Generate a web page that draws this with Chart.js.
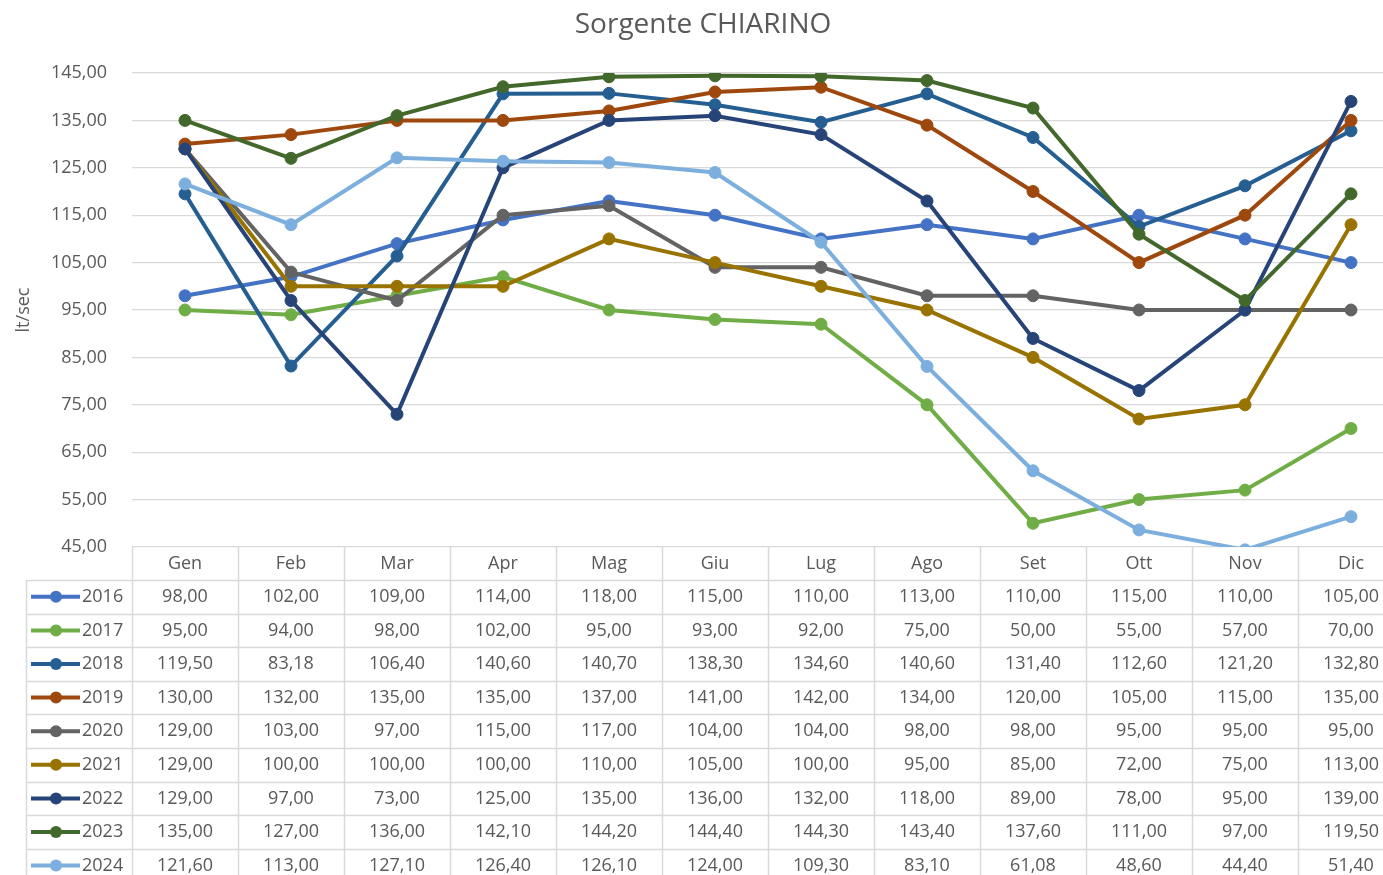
<!DOCTYPE html>
<html>
<head>
<meta charset="utf-8">
<script src="https://cdn.jsdelivr.net/npm/chart.js@4/dist/chart.umd.min.js"></script>
<style>
    html, body { margin: 0; padding: 0; background: #ffffff; overflow: hidden; }
    #wrap { position: absolute; left: 0; top: 0; }
</style>
</head>
<body>
<div id="wrap"><canvas id="chiarinoChart" width="1411" height="884"></canvas></div>
<script>
//DATA
let months = ["Gen", "Feb", "Mar", "Apr", "Mag", "Giu", "Lug", "Ago", "Set", "Ott", "Nov", "Dic"];
let years = ["2016", "2017", "2018", "2019", "2020", "2021", "2022", "2023", "2024"];

let v2016 = [98, 102, 109, 114, 118, 115, 110, 113, 110, 115, 110, 105];
let v2017 = [95, 94, 98, 102, 95, 93, 92, 75, 50, 55, 57, 70];
let v2018 = [119.5, 83.18, 106.4, 140.6, 140.7, 138.3, 134.6, 140.6, 131.4, 112.6, 121.2, 132.8];
let v2019 = [130, 132, 135, 135, 137, 141, 142, 134, 120, 105, 115, 135];
let v2020 = [129, 103, 97, 115, 117, 104, 104, 98, 98, 95, 95, 95];
let v2021 = [129, 100, 100, 100, 110, 105, 100, 95, 85, 72, 75, 113];
let v2022 = [129, 97, 73, 125, 135, 136, 132, 118, 89, 78, 95, 139];
let v2023 = [135, 127, 136, 142.1, 144.2, 144.4, 144.3, 143.4, 137.6, 111, 97, 119.5];
let v2024 = [121.6, 113, 127.1, 126.4, 126.1, 124, 109.3, 83.1, 61.08, 48.6, 44.4, 51.4];

let yTicksMin = 45;
let yTicksMax = 145;
let yTicksStep = 10;

let seriesValues = [v2016, v2017, v2018, v2019, v2020, v2021, v2022, v2023, v2024];
let seriesColors = ["#4472C4", "#70AD47", "#255E91", "#9E480E", "#636363", "#997300", "#264478", "#43682B", "#7CAFDD"];

let txtColor = "#595959";
let gridColor = "#d9d9d9";
let fontFam = "'Open Sans', 'Noto Sans', sans-serif";

function fmt(v) {
    return v.toFixed(2).replace(".", ",");
};

//build datasets
let datasets = [];
for (let i = 0; i < years.length; i++) {
    datasets[datasets.length] = {
        label: years[i],
        data: seriesValues[i],
        borderColor: seriesColors[i],
        backgroundColor: seriesColors[i],
        borderWidth: 4,
        pointRadius: 6,
        pointBorderWidth: 1,
        pointHoverRadius: 6,
        tension: 0,
        fill: false,
        order: years.length - i
    };
};

//data table under the plot
let dataTable = {
    id: "dataTable",
    afterDraw(chart) {
        let ctx = chart.ctx;
        let area = chart.chartArea;
        let xs = chart.scales.x;
        let colW = (area.right - area.left) / months.length;
        let headH = 33;
        let rowH = 33.6;
        let legLeft = 26;
        let headTop = area.bottom;
        let rowsTop = headTop + headH;
        let tableBottom = rowsTop + rowH * years.length;

        ctx.save();
        ctx.strokeStyle = gridColor;
        ctx.lineWidth = 1.5;

        //vertical lines
        for (let c = 0; c <= months.length; c++) {
            let x = Math.round(area.left + c * colW) + 0.5;
            ctx.beginPath();
            ctx.moveTo(x, headTop);
            ctx.lineTo(x, tableBottom);
            ctx.stroke();
        };
        ctx.beginPath();
        ctx.moveTo(legLeft + 0.5, rowsTop);
        ctx.lineTo(legLeft + 0.5, tableBottom);
        ctx.stroke();

        //horizontal lines
        for (let r = 0; r <= years.length; r++) {
            let y = Math.round(rowsTop + r * rowH) + 0.5;
            ctx.beginPath();
            ctx.moveTo(legLeft, y);
            ctx.lineTo(area.right, y);
            ctx.stroke();
        };

        ctx.font = "18px " + fontFam;
        ctx.fillStyle = txtColor;
        ctx.textBaseline = "middle";
        ctx.textAlign = "center";

        //header
        for (let c = 0; c < months.length; c++) {
            ctx.fillText(months[c], xs.getPixelForValue(c), headTop + headH / 2);
        };

        //rows
        for (let r = 0; r < years.length; r++) {
            let cy = rowsTop + rowH * (r + 0.5);
            // legend key
            ctx.strokeStyle = seriesColors[r];
            ctx.lineWidth = 4;
            ctx.beginPath();
            ctx.moveTo(31, cy);
            ctx.lineTo(80, cy);
            ctx.stroke();
            ctx.fillStyle = seriesColors[r];
            ctx.beginPath();
            ctx.arc(56, cy, 6, 0, Math.PI * 2);
            ctx.fill();

            ctx.fillStyle = txtColor;
            ctx.textAlign = "left";
            ctx.fillText(years[r], 82, cy);
            ctx.textAlign = "center";
            for (let c = 0; c < months.length; c++) {
                ctx.fillText(fmt(seriesValues[r][c]), xs.getPixelForValue(c), cy);
            };
        };
        ctx.restore();
    }
};

//Create Chart
let canvas = document.getElementById("chiarinoChart");
let ctx = canvas.getContext("2d");
let chart = new Chart(ctx, {
    type: "line",
    data: {
        labels: months,
        datasets: datasets
    },
    options: {
        responsive: false,
        animation: false,
        devicePixelRatio: 1,
        layout: {
            padding: { top: 0, left: 0, right: 5, bottom: 337 }
        },
        plugins: {
            legend: { display: false },
            tooltip: { enabled: false },
            title: {
                display: true,
                text: "Sorgente CHIARINO",
                color: txtColor,
                font: { family: fontFam, size: 28, weight: "normal", lineHeight: 1.2 },
                padding: { top: 8.2, bottom: 31.2 }
            }
        },
        scales: {
            x: {
                type: "category",
                display: false,
                offset: true
            },
            y: {
                min: yTicksMin,
                max: yTicksMax,
                afterFit(scale) {
                    scale.width = 132;
                },
                border: { display: false },
                grid: {
                    color: gridColor,
                    lineWidth: 1.3,
                    drawTicks: false
                },
                ticks: {
                    stepSize: yTicksStep,
                    padding: 25,
                    color: txtColor,
                    font: { family: fontFam, size: 18 },
                    callback: function (v) { return fmt(v); }
                },
                title: {
                    display: true,
                    text: "lt/sec",
                    color: txtColor,
                    font: { family: fontFam, size: 18, lineHeight: 1.2 },
                    padding: { top: 13, bottom: 0 }
                }
            }
        }
    },
    plugins: [dataTable]
});
</script>
</body>
</html>
